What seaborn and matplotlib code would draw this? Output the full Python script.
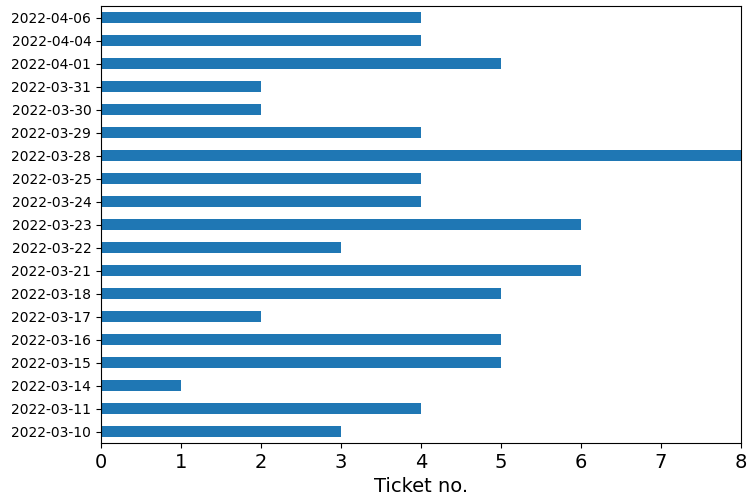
import matplotlib
matplotlib.use("Agg")
import matplotlib.pyplot as plt
import seaborn as sns
import pandas as pd

dates = ["2022-04-06", "2022-04-04", "2022-04-01", "2022-03-31", "2022-03-30",
         "2022-03-29", "2022-03-28", "2022-03-25", "2022-03-24", "2022-03-23",
         "2022-03-22", "2022-03-21", "2022-03-18", "2022-03-17", "2022-03-16",
         "2022-03-15", "2022-03-14", "2022-03-11", "2022-03-10"]
tickets = [4, 4, 5, 2, 2, 4, 8, 4, 4, 6, 3, 6, 5, 2, 5, 5, 1, 4, 3]

df = pd.DataFrame({"date": dates, "tickets": tickets})

fig = plt.figure(figsize=(7.49, 5.01), dpi=100)
ax = fig.add_axes([101/749, 1 - 443/501, 640/749, 437/501])

sns.barplot(data=df, x="tickets", y="date", order=dates, orient="h",
            color="#1f77b4", saturation=1, width=0.5, ax=ax)

ax.set_xlim(0, 8)
ax.set_ylim(len(dates) - 0.5, -0.5)
ax.set_ylabel("")
ax.set_xlabel("Ticket no.", fontsize=14)
ax.tick_params(axis="x", labelsize=14)
ax.tick_params(axis="y", labelsize=10)
for s in ax.spines.values():
    s.set_visible(True)

fig.savefig("out.png", dpi=100)
